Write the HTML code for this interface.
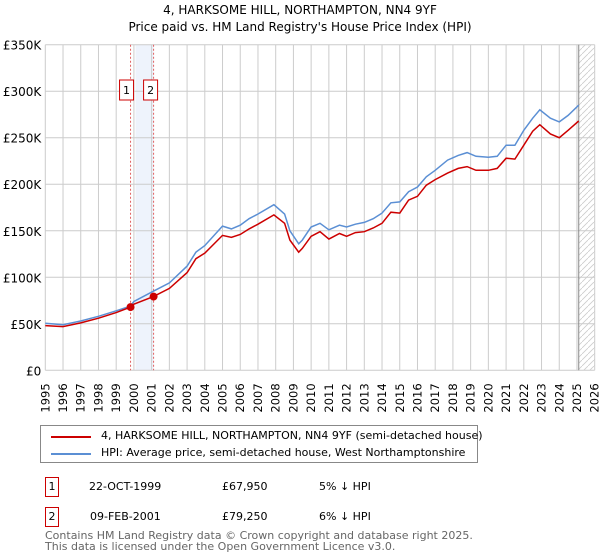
<!DOCTYPE html>
<html><head><meta charset="utf-8"><style>
body{margin:0;background:#fff;font-family:"DejaVu Sans","Liberation Sans",sans-serif;}
#wrap{position:relative;width:600px;height:560px;overflow:hidden;}
.t{position:absolute;font-size:11px;color:#000;white-space:nowrap;}
.box{position:absolute;border:1px solid #c00;width:12px;height:18px;font-size:11px;text-align:center;line-height:18px;}
</style></head><body>
<div id="wrap">
<svg id="svg" width="600" height="420" style="position:absolute;left:0;top:0;font-family:'DejaVu Sans','Liberation Sans',sans-serif"></svg>
<div style="position:absolute;left:40px;top:425px;width:436px;height:36px;border:1px solid #888;">
 <div style="position:absolute;left:10px;top:10px;width:40px;height:2px;background:#c00"></div>
 <div class="t" style="left:60px;top:3px;">4, HARKSOME HILL, NORTHAMPTON, NN4 9YF (semi-detached house)</div>
 <div style="position:absolute;left:10px;top:27px;width:40px;height:2px;background:#5b8fd4"></div>
 <div class="t" style="left:60px;top:20px;">HPI: Average price, semi-detached house, West Northamptonshire</div>
</div>
<div class="box" style="left:45px;top:477px;">1</div>
<div class="t" style="left:89px;top:480px;">22-OCT-1999</div>
<div class="t" style="left:222px;top:480px;">£67,950</div>
<div class="t" style="left:319px;top:480px;">5% ↓ HPI</div>
<div class="box" style="left:45px;top:507px;">2</div>
<div class="t" style="left:90px;top:510px;">09-FEB-2001</div>
<div class="t" style="left:222px;top:510px;">£79,250</div>
<div class="t" style="left:319px;top:510px;">6% ↓ HPI</div>
<div class="t" style="left:45px;top:530px;color:#666;line-height:11px;">Contains HM Land Registry data © Crown copyright and database right 2025.<br>This data is licensed under the Open Government Licence v3.0.</div>
</div>
<script>
const yTicks=[0,50,100,150,200,250,300,350];
const yTickLabels=["£0","£50K","£100K","£150K","£200K","£250K","£300K","£350K"];
const years=[1995,1996,1997,1998,1999,2000,2001,2002,2003,2004,2005,2006,2007,2008,2009,2010,2011,2012,2013,2014,2015,2016,2017,2018,2019,2020,2021,2022,2023,2024,2025,2026];
const hpiX=[1995,1996,1997,1998,1999,1999.8,2000,2001.1,2002,2003,2003.5,2004,2005,2005.5,2006,2006.5,2007,2007.9,2008.5,2008.8,2009.3,2009.5,2010,2010.5,2011,2011.6,2012,2012.5,2013,2013.5,2014,2014.5,2015,2015.5,2016,2016.5,2017,2017.7,2018.3,2018.8,2019.3,2020,2020.5,2021,2021.5,2022,2022.5,2022.9,2023.5,2024,2024.5,2025.1];
const hpiY=[50.5,49,53,58,64,69,74,85,94,112,127,134,155,152,156,163,168,178,168,150,136,140,154,158,151,156,154,157,159,163,169,180,181,192,197,208,215,226,231,234,230,229,230,242,242,258,271,280,271,267,274,285];
const priceY=[48,47,51,56,62,67.95,71,79.25,88,105,120,126,145,143,146,152,157,167,158,140,127,131,144,149,141,147,144,148,149,153,158,170,169,183,187,199,205,212,217,219,215,215,217,228,227,242,257,264,254,250,258,268];
const salesX=[1999.81,2001.11];
const salesY=[67.95,79.25];
const salesLabels=["1","2"];
const L=45.3,R=594.7,T=44.7,B=370.3;
const x=v=>L+(v-1995)*(R-L)/31;
const y=v=>B-v*(B-T)/350;
const svg=document.getElementById('svg');
const NS='http://www.w3.org/2000/svg';
function mk(tag,a,parent){const e=document.createElementNS(NS,tag);for(const k in a)e.setAttribute(k,a[k]);(parent||svg).appendChild(e);return e;}
let e;
e=mk('text',{x:300,y:14,'text-anchor':'middle','font-size':12});e.textContent='4, HARKSOME HILL, NORTHAMPTON, NN4 9YF';


e=mk('text',{x:300,y:31,'text-anchor':'middle','font-size':12});e.textContent="Price paid vs. HM Land Registry's House Price Index (HPI)";


e=mk('rect',{x:x(salesX[0])+5,y:T,width:x(salesX[1])-x(salesX[0])-5,height:B-T,fill:'#eef3fc'});


const defs=mk('defs',{});
const p=mk('pattern',{id:'h',width:6,height:6,patternUnits:'userSpaceOnUse'},defs);
mk('path',{d:'M0,6 L6,0',stroke:'#ccc','stroke-width':0.8},p);
e=mk('rect',{x:x(2025.1),y:T,width:R-x(2025.1),height:B-T,fill:'url(#h)'});


yTicks.forEach((v,i)=>{
 e=mk('line',{x1:L,x2:R,y1:y(v),y2:y(v),stroke:'#ccc','stroke-width':1});
 
 
 e=mk('text',{x:L-4,y:y(v)+5,'text-anchor':'end','font-size':12});e.textContent=yTickLabels[i];
 
 
});
years.forEach(v=>{
 e=mk('line',{x1:x(v),x2:x(v),y1:T,y2:B,stroke:'#ccc','stroke-width':1});
 
 
 e=mk('text',{x:0,y:0,'text-anchor':'end','font-size':11.5,transform:`translate(${x(v)+4},${B+13}) rotate(-90)`});e.textContent=v;
 
 
});
e=mk('line',{x1:x(2025.1),x2:x(2025.1),y1:T,y2:B,stroke:'#888','stroke-width':1});


salesX.forEach((v,i)=>{
 e=mk('line',{x1:x(v),x2:x(v),y1:T,y2:B,stroke:'#e06060','stroke-width':1,'stroke-dasharray':'2,2'});
 
 
 const bx=x(v)+(i==0?-4:-3);
 e=mk('rect',{x:bx-7,y:80,width:14,height:20,fill:'#fff',stroke:'#c00'});
 
 
 e=mk('text',{x:bx,y:94,'text-anchor':'middle','font-size':11});e.textContent=salesLabels[i];
 
 
});
const path=(ys)=>hpiX.map((v,i)=>(i?'L':'M')+x(v).toFixed(1)+','+y(ys[i]).toFixed(1)).join('');
e=mk('path',{d:path(hpiY),fill:'none',stroke:'#5b8fd4','stroke-width':1.5});


e=mk('path',{d:path(priceY),fill:'none',stroke:'#c00','stroke-width':1.5});


salesX.forEach((v,i)=>{
 e=mk('circle',{cx:x(v),cy:y(salesY[i]),r:4,fill:'#c00'});
 
 
});
</script>
</body></html>
